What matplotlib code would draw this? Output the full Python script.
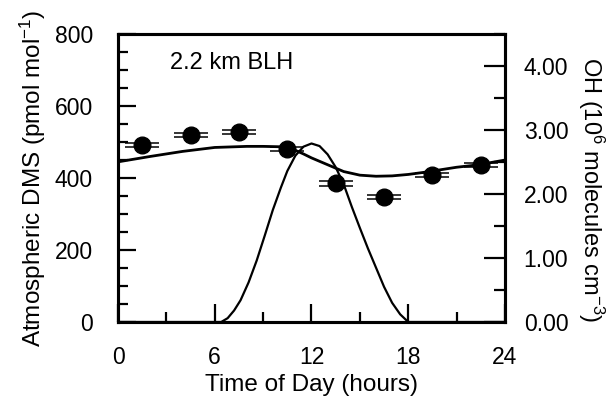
import numpy as np
import matplotlib
matplotlib.use('Agg')
import matplotlib.pyplot as plt
from matplotlib.ticker import MultipleLocator, FormatStrFormatter

plt.rcParams['font.family'] = ['Liberation Sans', 'DejaVu Sans']
plt.rcParams['mathtext.default'] = 'regular'

# measured DMS (pmol/mol) with time of day
obs_hours = [1.5, 4.5, 7.5, 10.5, 13.5, 16.5, 19.5, 22.5]
obs_dms = [492, 519, 528, 480, 385, 348, 408, 436]
obs_err = [6, 6, 6, 6, 6, 6, 6, 6]

# modelled DMS
mod_hours = [0, 2, 4, 6, 8, 9, 10, 10.5, 11, 11.5, 12, 13, 14, 15, 16, 17,
             18, 19, 20, 21, 22, 23, 24]
mod_dms = [445, 460, 474, 485, 488, 488, 487, 485, 477, 467, 456, 437, 418,
           408, 405, 406, 410, 416, 423, 430, 435, 442, 450]

# OH concentration (10^6 molecules cm-3)
oh_hours = [0, 6, 6.4, 6.8, 7.2, 7.6, 8.1, 8.6, 9.1, 9.6, 10.1, 10.5, 11,
            11.5, 12, 12.5, 13, 13.5, 14, 14.5, 15, 15.5, 16, 16.5, 17,
            17.5, 18, 24]
oh_conc = [0, 0, 0, 0.06, 0.18, 0.34, 0.62, 0.96, 1.35, 1.75, 2.1, 2.36,
           2.6, 2.74, 2.79, 2.75, 2.62, 2.42, 2.15, 1.8, 1.47, 1.15, 0.85,
           0.55, 0.3, 0.12, 0.0, 0.0]

fig = plt.figure(figsize=(6.13, 4.01), dpi=100)
ax = fig.add_axes([0.1925, 0.197, 0.6313, 0.718])
ax2 = ax.twinx()

ax.plot(mod_hours, mod_dms, color='k', lw=2.0, zorder=3)
ax.errorbar(obs_hours, obs_dms, yerr=obs_err, fmt='o', color='k', ms=12,
            capsize=12.5, capthick=1.1, elinewidth=1.1, zorder=4)
ax2.plot(oh_hours, oh_conc, color='k', lw=1.6)

ax.set_xlim(0, 24)
ax.set_ylim(0, 800)
ax2.set_ylim(0, 4.5)

ax.xaxis.set_major_locator(MultipleLocator(6))
ax.xaxis.set_minor_locator(MultipleLocator(3))
ax.yaxis.set_major_locator(MultipleLocator(200))
ax.yaxis.set_minor_locator(MultipleLocator(50))
ax2.yaxis.set_major_locator(MultipleLocator(1))
ax2.yaxis.set_minor_locator(MultipleLocator(0.5))
ax2.yaxis.set_major_formatter(FormatStrFormatter('%.2f'))

for a in (ax, ax2):
    for s in a.spines.values():
        s.set_linewidth(2.2)

ax.tick_params(which='major', direction='in', length=13, width=1.6,
               labelsize=16.5, top=False, right=False)
ax.tick_params(axis='x', which='major', pad=17)
ax.tick_params(axis='y', which='major', pad=18)
ax.tick_params(which='minor', direction='in', length=7, width=1.6,
               top=False, right=False)
ax2.tick_params(which='major', direction='in', length=15, width=1.6,
                labelsize=16.5, pad=13.5)
ax2.tick_params(which='minor', direction='in', length=8, width=1.6)

ax.set_xlabel('Time of Day (hours)', fontsize=17.5, labelpad=4)
ax.set_ylabel('Atmospheric DMS (pmol mol$^{-1}$)', fontsize=17.5, labelpad=5)
ax2.set_ylabel('OH (10$^{6}$ molecules cm$^{-3}$)', fontsize=17,
               rotation=270, va='center', ha='center')
ax2.yaxis.set_label_coords(1.222, 0.46)

ax.text(0.135, 0.9, '2.2 km BLH', transform=ax.transAxes, fontsize=17,
        va='center', ha='left')

fig.savefig('out.png', dpi=100)
